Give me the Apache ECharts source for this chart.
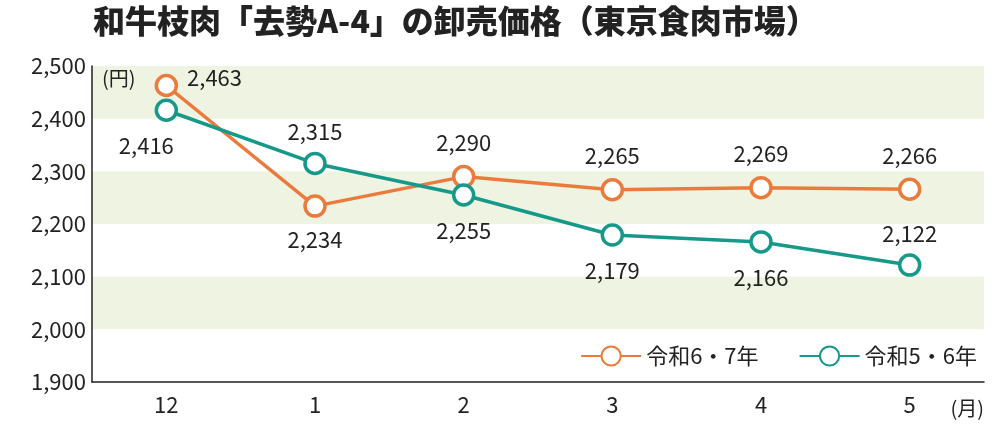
<!DOCTYPE html>
<html>
<head>
<meta charset="utf-8">
<script src="https://cdn.jsdelivr.net/npm/echarts@6/dist/echarts.min.js"></script>
<style>html,body{margin:0;padding:0;background:#fff}#c{width:1000px;height:435px}</style>
</head>
<body>
<div id="c"></div>
<script>
var months = ['12', '1', '2', '3', '4', '5'];
var reiwa67 = [2463, 2234, 2290, 2265, 2269, 2266];
var reiwa56 = [2416, 2315, 2255, 2179, 2166, 2122];
var yTicks = [1900, 2000, 2100, 2200, 2300, 2400, 2500];

var orange = '#ea7b3c', teal = '#17998a';
var font = '"Noto Sans CJK JP", sans-serif';

// label placement per point: [position, offset]
var pos67 = [['right', [4, -8]], ['bottom', [0, 6]], ['top', [0, -6]], ['top', [0, -6]], ['top', [0, -6]], ['top', [0, -6]]];
var pos56 = [['bottom', [-20, 8]], ['top', [0, -4]], ['bottom', [0, 8]], ['bottom', [0, 8]], ['bottom', [0, 8]], ['top', [0, -4]]];

function mk(vals, pos) {
    return vals.map(function (v, i) {
        return {value: v, label: {position: pos[i][0], offset: pos[i][1]}};
    });
}

var chart = echarts.init(document.getElementById('c'));
var option = {
    animation: false,
    title: {
        text: '和牛枝肉「去勢A-4」の卸売価格（東京食肉市場）',
        left: 88, top: 0,
        textStyle: {fontFamily: font, fontSize: 32, fontWeight: 900, color: '#222'}
    },
    legend: {
        right: 18, top: 340,
        itemWidth: 60, itemHeight: 24, itemGap: 40,
        textStyle: {fontFamily: font, fontSize: 22, color: '#222'},
        data: ['令和6・7年', '令和5・6年']
    },
    grid: {left: 92, right: 16, top: 66, bottom: 53},
    xAxis: {
        type: 'category', data: months, boundaryGap: true,
        axisLine: {lineStyle: {color: '#222', width: 1.5}},
        axisTick: {show: false},
        axisLabel: {fontFamily: font, fontSize: 22, color: '#222', margin: 12},
        name: '(月)', nameLocation: 'end', nameGap: 0,
        nameTextStyle: {fontFamily: font, fontSize: 20, color: '#222', align: 'right', verticalAlign: 'top', padding: [16, 0, 0, 0]}
    },
    yAxis: {
        type: 'value', min: 1900, max: 2500, interval: 100,
        axisLine: {show: true, lineStyle: {color: '#222', width: 1.5}},
        axisTick: {show: false},
        splitLine: {show: false},
        splitArea: {show: true, areaStyle: {color: ['rgba(0,0,0,0)', '#eef4e1']}},
        axisLabel: {
            fontFamily: font, fontSize: 22, color: '#222', margin: 6,
            formatter: function (v) { return yTicks.indexOf(v) >= 0 ? v.toLocaleString('en-US') : ''; }
        },
        name: '(円)', nameLocation: 'end', nameGap: -22,
        nameTextStyle: {fontFamily: font, fontSize: 20, color: '#222', align: 'left', padding: [0, 0, 0, 10]}
    },
    series: [{
        name: '令和6・7年', type: 'line', data: mk(reiwa67, pos67),
        symbol: 'circle', symbolSize: 20,
        lineStyle: {color: orange, width: 3.5},
        itemStyle: {color: '#fff', borderColor: orange, borderWidth: 3.5},
        label: {show: true, fontFamily: font, fontSize: 22, color: '#222',
            formatter: function (p) { return p.value.toLocaleString('en-US'); }}
    }, {
        name: '令和5・6年', type: 'line', data: mk(reiwa56, pos56),
        symbol: 'circle', symbolSize: 20,
        lineStyle: {color: teal, width: 3.5},
        itemStyle: {color: '#fff', borderColor: teal, borderWidth: 3.5},
        label: {show: true, fontFamily: font, fontSize: 22, color: '#222',
            formatter: function (p) { return p.value.toLocaleString('en-US'); }}
    }]
};
chart.setOption(option);
</script>
</body>
</html>
